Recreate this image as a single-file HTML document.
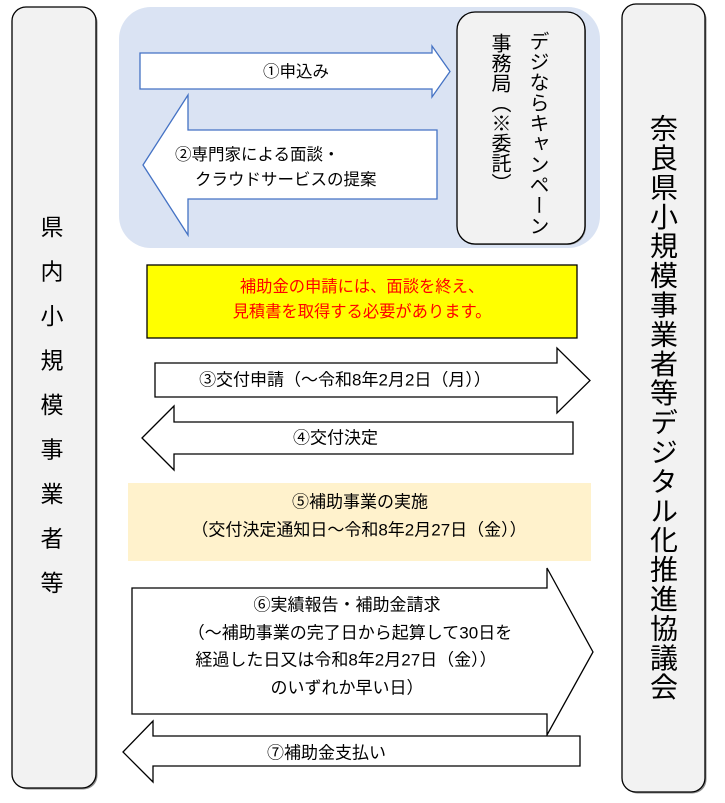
<!DOCTYPE html>
<html><head><meta charset="utf-8">
<style>
html,body{margin:0;padding:0;background:#fff;}
body{width:725px;height:803px;position:relative;overflow:hidden;font-family:"Liberation Sans","Noto Sans CJK JP",sans-serif;}
svg{position:absolute;left:0;top:0;}
svg text{font-family:"Liberation Sans","Noto Sans CJK JP",sans-serif;}
.v{position:absolute;writing-mode:vertical-rl;text-orientation:upright;color:#000;white-space:nowrap;font-family:"Liberation Sans","Noto Sans CJK JP",sans-serif;}
</style></head><body>
<svg width="725" height="803" viewBox="0 0 725 803" xmlns="http://www.w3.org/2000/svg">
  <!-- side boxes -->
  <rect x="13.5" y="8.5" width="84" height="781" rx="14" fill="#8a8a8a"/>
  <rect x="12" y="7" width="84" height="781" rx="14" fill="#f2f2f2" stroke="#000" stroke-width="1.3"/>
  <rect x="623.5" y="5.5" width="83" height="788" rx="14" fill="#8a8a8a"/>
  <rect x="622" y="4" width="83" height="788" rx="14" fill="#f2f2f2" stroke="#000" stroke-width="1.3"/>
  <!-- blue region -->
  <rect x="119" y="7" width="481" height="241" rx="32" fill="#dae3f3"/>
  <!-- inner box -->
  <rect x="458" y="13" width="128" height="232" rx="18" fill="#8a8a8a"/>
  <rect x="457" y="12" width="128" height="232" rx="18" fill="#f2f2f2" stroke="#000" stroke-width="1.3"/>
  <!-- arrow 1 -->
  <polygon points="140,53 432,53 432,46 450,71.5 432,97 432,89 140,89" fill="#fff" stroke="#4472c4" stroke-width="1.3"/>
  <!-- arrow 2 -->
  <polygon points="143,165 188,95 188,130 437,130 437,199 188,199 188,235" fill="#fff" stroke="#4472c4" stroke-width="1.3"/>
  <!-- yellow -->
  <rect x="147" y="265" width="430" height="73" fill="#ffff00" stroke="#000" stroke-width="1.3"/>
  <!-- arrow 3 -->
  <polygon points="155,363 557,363 557,348 590,380.5 557,413 557,397 155,397" fill="#fff" stroke="#000" stroke-width="1.3"/>
  <!-- arrow 4 -->
  <polygon points="142,438 174,406 174,422 573,422 573,454 174,454 174,470" fill="#fff" stroke="#000" stroke-width="1.3"/>
  <!-- box 5 -->
  <rect x="128" y="483" width="463" height="78" fill="#fff2cc"/>
  <!-- arrow 6 -->
  <polygon points="132,588 547,588 547,568 593,652 547,735 547,714 132,714" fill="#fff" stroke="#000" stroke-width="1.3"/>
  <!-- arrow 7 -->
  <polygon points="123,752 153,721 153,736 580,736 580,766 153,766 153,782" fill="#fff" stroke="#000" stroke-width="1.3"/>

  <g fill="#000" dominant-baseline="central">
    <text x="296" y="72" font-size="16.5" text-anchor="middle">①申込み</text>
    <text x="175" y="155" font-size="16.5">②専門家による面談・</text>
    <text x="195" y="180" font-size="16.5">クラウドサービスの提案</text>
    <text x="362" y="287" font-size="16.3" text-anchor="middle" fill="#ff0000">補助金の申請には、面談を終え、</text>
    <text x="362" y="312" font-size="16.3" text-anchor="middle" fill="#ff0000">見積書を取得する必要があります。</text>
    <text x="345" y="380" font-size="17" text-anchor="middle">③交付申請（～令和8年2月2日（月））</text>
    <text x="293" y="438" font-size="17">④交付決定</text>
    <text x="360" y="502" font-size="17" text-anchor="middle">⑤補助事業の実施</text>
    <text x="359" y="530" font-size="17" text-anchor="middle">（交付決定通知日～令和8年2月27日（金））</text>
    <text x="347" y="605" font-size="17" text-anchor="middle">⑥実績報告・補助金請求</text>
    <text x="350" y="633" font-size="17" text-anchor="middle">（～補助事業の完了日から起算して30日を</text>
    <text x="346" y="660" font-size="17" text-anchor="middle">経過した日又は令和8年2月27日（金））</text>
    <text x="347" y="688" font-size="17" text-anchor="middle">のいずれか早い日）</text>
    <text x="267" y="753" font-size="17">⑦補助金支払い</text>
  </g>
</svg>

<div class="v" style="left:30px;top:215px;width:40px;line-height:40px;font-size:23px;letter-spacing:21.5px;">県内小規模事業者等</div>
<div class="v" style="left:642px;top:114px;width:40px;line-height:40px;font-size:28px;letter-spacing:1.4px;">奈良県小規模事業者等デジタル化推進協議会</div>
<div class="v" style="left:522px;top:31px;width:30px;line-height:30px;font-size:20px;letter-spacing:0.5px;">デジならキャンペーン</div>
<div class="v" style="left:484px;top:33px;width:30px;line-height:30px;font-size:20px;letter-spacing:0px;">事務局（※委託）</div>
</body></html>
